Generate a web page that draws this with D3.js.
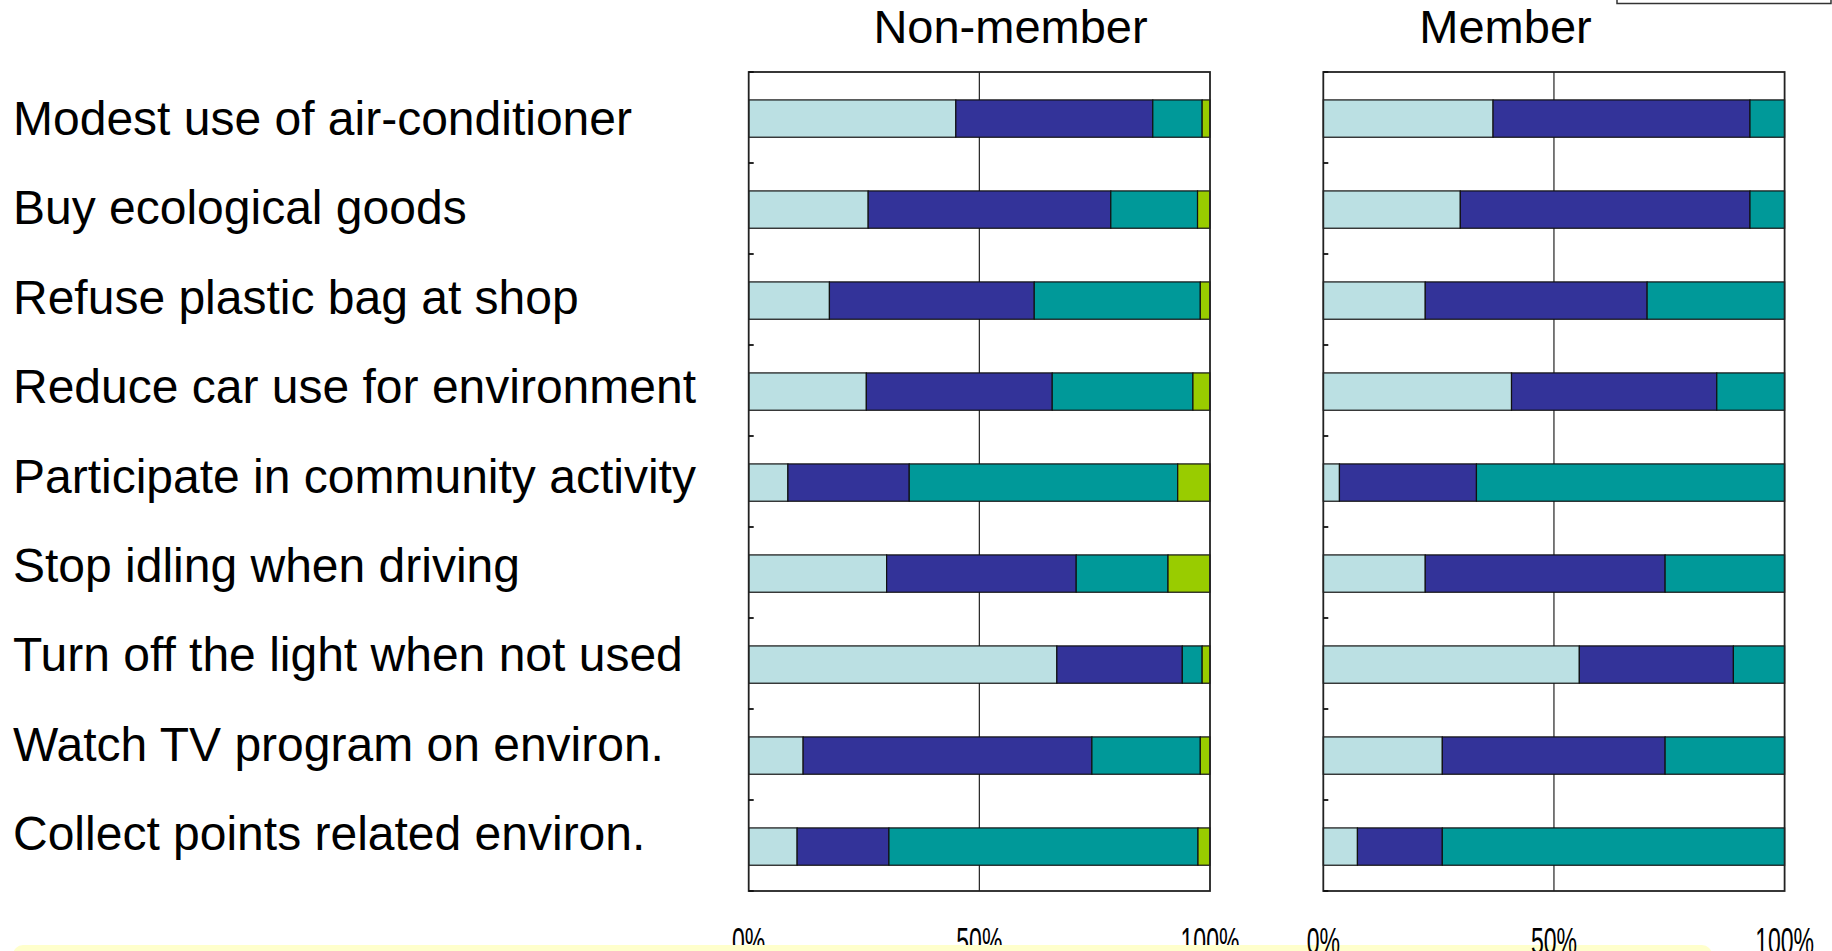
<!DOCTYPE html>
<html>
<head>
<meta charset="utf-8">
<script src="https://cdn.jsdelivr.net/npm/d3@7"></script>
<style>
  html, body { margin: 0; padding: 0; background: #fff; }
  svg { display: block; }
  text { font-family: "Liberation Sans", Arial, sans-serif; fill: #000; }
</style>
</head>
<body>
<script>
// Eco-behaviour survey: share of answers per action, non-members vs members
const categories = [
  "Modest use of air-conditioner",
  "Buy ecological goods",
  "Refuse plastic bag at shop",
  "Reduce car use for environment",
  "Participate in community activity",
  "Stop idling when driving",
  "Turn off the light when not used",
  "Watch TV program on environ.",
  "Collect points related environ."
];

const responseKeys = ["level1", "level2", "level3", "level4"];
const responseColors = ["#BBE0E3", "#333399", "#009999", "#99CC00"];

// Non-member answers (% of respondents)
const nonMemberLevel1 = [44.9, 25.9, 17.5, 25.5, 8.5, 29.9, 66.8, 11.8, 10.5];
const nonMemberLevel2 = [42.7, 52.6, 44.4, 40.3, 26.3, 41.1, 27.2, 62.6, 19.9];
const nonMemberLevel3 = [10.7, 18.8, 36.0, 30.5, 58.2, 19.9, 4.3, 23.5, 67.0];
const nonMemberLevel4 = [1.7, 2.7, 2.1, 3.7, 7.0, 9.1, 1.7, 2.1, 2.6];

// Member answers (% of respondents)
const memberLevel1 = [36.8, 29.7, 22.1, 40.8, 3.5, 22.1, 55.5, 25.8, 7.4];
const memberLevel2 = [55.7, 62.8, 48.1, 44.5, 29.7, 52.0, 33.4, 48.3, 18.4];
const memberLevel3 = [7.5, 7.5, 29.8, 14.7, 66.8, 25.9, 11.1, 25.9, 74.2];
const memberLevel4 = [0, 0, 0, 0, 0, 0, 0, 0, 0];

const tickValues = [0, 50, 100];
const panelTitles = ["Non-member", "Member"];

function rows(l1, l2, l3, l4) {
  return categories.map((c, i) => ({ category: c, level1: l1[i], level2: l2[i], level3: l3[i], level4: l4[i] }));
}

const W = 1832, H = 951;
const plotTop = 72, plotBottom = 891, plotWidth = 461.3;

const svg = d3.select("body").append("svg").attr("width", W).attr("height", H);
svg.append("rect").attr("width", W).attr("height", H).attr("fill", "#fff");

// band scales: one for the bars, one for the category boundaries
const yBar = d3.scaleBand().domain(categories).range([plotTop, plotBottom])
  .paddingInner(0.59).paddingOuter(0.295).align(0.52);
const yCell = d3.scaleBand().domain(categories).range([plotTop, plotBottom]).padding(0);
const boundaries = categories.map(c => yCell(c)).concat([plotBottom]);

// category labels (own text column, slightly tighter spacing than the bars)
const yLabel = d3.scalePoint().domain(categories).range([118, 833]);
svg.append("g").selectAll("text").data(categories).join("text")
  .attr("x", 13)
  .attr("y", d => yLabel(d) + 17)
  .attr("font-size", 48)
  .text(d => d);

const stack = d3.stack().keys(responseKeys);
const color = d3.scaleOrdinal().domain(responseKeys).range(responseColors);

function drawPanel(data, x0, titleX) {
  const g = svg.append("g");
  const x = d3.scaleLinear().domain([0, 100]).range([x0, x0 + plotWidth]);

  g.append("text")
    .attr("x", titleX).attr("y", 43)
    .attr("text-anchor", "middle")
    .attr("font-size", 47)
    .text(data.title);

  // 50% gridline
  g.append("line")
    .attr("x1", x(50)).attr("x2", x(50))
    .attr("y1", plotTop).attr("y2", plotBottom)
    .attr("stroke", "#222").attr("stroke-width", 1.2);

  const series = stack(data.rows);
  g.append("g").selectAll("g").data(series).join("g")
    .attr("fill", d => color(d.key))
    .selectAll("rect").data(d => d.filter(s => s[1] - s[0] > 0)).join("rect")
    .attr("x", d => x(d[0]))
    .attr("width", d => x(d[1]) - x(d[0]))
    .attr("y", d => yBar(d.data.category))
    .attr("height", yBar.bandwidth())
    .attr("stroke", "#111").attr("stroke-width", 1.2);

  // plot frame
  g.append("rect")
    .attr("x", x(0)).attr("y", plotTop)
    .attr("width", x(100) - x(0)).attr("height", plotBottom - plotTop)
    .attr("fill", "none").attr("stroke", "#222").attr("stroke-width", 1.8);

  // inward category ticks on the left axis
  g.append("g").selectAll("line").data(boundaries).join("line")
    .attr("x1", x(0)).attr("x2", x(0) + 5)
    .attr("y1", d => d).attr("y2", d => d)
    .attr("stroke", "#111").attr("stroke-width", 1.8);

  return x;
}

// narrow, tall percentage labels under each panel
function drawTickLabels(x) {
  svg.append("g").selectAll("text").data(tickValues).join("text")
    .attr("transform", d => `translate(${x(d)},954) scale(0.64,1)`)
    .attr("text-anchor", "middle")
    .attr("font-size", 36)
    .text(d => d + "%");
}

const xNon = drawPanel({ title: panelTitles[0], rows: rows(nonMemberLevel1, nonMemberLevel2, nonMemberLevel3, nonMemberLevel4) }, 748.7, 1010.5);
drawTickLabels(xNon);

// pale note box along the bottom edge
svg.append("rect")
  .attr("x", 13).attr("y", 945)
  .attr("width", 1699).attr("height", 40)
  .attr("rx", 10).attr("ry", 10)
  .attr("fill", "#FFFFCC");

const xMem = drawPanel({ title: panelTitles[1], rows: rows(memberLevel1, memberLevel2, memberLevel3, memberLevel4) }, 1323.3, 1505.5);
drawTickLabels(xMem);

// legend box at the top-right edge
svg.append("rect")
  .attr("x", 1617).attr("y", -20)
  .attr("width", 214).attr("height", 23.5)
  .attr("fill", "#fff").attr("stroke", "#333").attr("stroke-width", 1.5);
</script>
</body>
</html>
